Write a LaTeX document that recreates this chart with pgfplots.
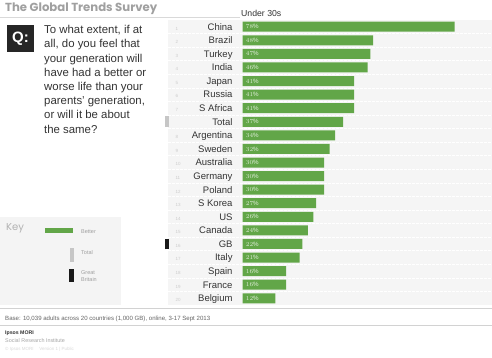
\documentclass[border=0pt]{standalone}
\usepackage{pgfplots}
\pgfplotsset{compat=1.18}
\usepackage{pgfplotstable}
\usepackage{fontspec}
\setmainfont{Liberation Sans}
\newfontfamily\titlefont{Poppins}
\definecolor{barGreen}{RGB}{98,166,72}
\definecolor{txt}{RGB}{51,51,51}
\definecolor{ttl}{RGB}{160,160,160}
\newcommand\strutx{\rule[-3pt]{0pt}{12.8pt}}
\newcommand\lab[3]{\makebox[68pt]{\strutx\makebox[11pt][l]{#3}\makebox[8pt][l]{\textcolor{gray!40}{\fontsize{4.5}{5}\selectfont #1}}\hfill #2}}
\newcommand\mk[1]{\textcolor{#1}{\rule[-1.9pt]{4pt}{10.6pt}}}
\pgfplotstableread{
idx val
1 78
2 48
3 47
4 46
5 41
6 41
7 41
8 37
9 34
10 32
11 30
12 30
13 30
14 27
15 26
16 24
17 22
18 21
19 16
20 16
21 12
}\data
\begin{document}
\begin{tikzpicture}
\useasboundingbox (0,0) rectangle (492pt,357pt);
\fill[white] (0,0) rectangle (492pt,357pt);
\begin{scope}[x=1pt,y=-1pt,shift={(0pt,357pt)}]
 % title
 \node[anchor=west,inner sep=0pt,text=ttl] at (5,8.5) {\resizebox{152pt}{!}{\titlefont\bfseries The Global Trends Survey}};
 \draw[gray!30,line width=0.6pt] (0,17) -- (240,17);
 % chart background
 \fill[gray!8] (168,19.9) rectangle (492,305.1);
 \foreach \k in {1,...,20} {\draw[white,line width=0.6pt,dash pattern=on 3pt off 1pt] (168,19.9+\k*13.58) -- (492,19.9+\k*13.58);}
 % Q box
 \fill[black!85] (7,25) rectangle (34,52);
 \node[text=white,font=\fontsize{15}{15}\selectfont\bfseries] at (20.5,38.5) {Q:};
 \node[anchor=north west,align=left,inner sep=0pt,text=txt,font=\fontsize{11.4}{14.2}\selectfont] at (44,25.3)
 {To what extent, if at\\all, do you feel that\\your generation will\\have had a better or\\worse life than your\\parents' generation,\\or will it be about\\the same?};
 % header
 \node[anchor=west,inner sep=0pt,text=txt,font=\fontsize{8.7}{9}\selectfont] at (241,13.3) {Under 30s};
 % key
 \fill[gray!9] (0,217) rectangle (120.7,305);
 \node[anchor=west,inner sep=0pt,text=gray!60,font=\titlefont\fontsize{10}{10}\selectfont] at (6,228) {Key};
 \fill[barGreen] (45,228.3) rectangle (73,233.3);
 \node[anchor=west,inner sep=0pt,text=gray!75,font=\fontsize{5.5}{6}\selectfont] at (81,231.3) {Better};
 \fill[gray!45] (70,247.7) rectangle (74,261.7);
 \node[anchor=west,inner sep=0pt,text=gray!75,font=\fontsize{5.5}{6}\selectfont] at (81,253) {Total};
 \fill[black!90] (69,269) rectangle (74,282.3);
 \node[anchor=west,inner sep=0pt,align=left,text=gray!75,font=\fontsize{5.5}{7.4}\selectfont] at (81,276) {Great\\Britain};
 % footer
 \draw[gray!35,line width=0.5pt] (0,308) -- (492,308);
 \draw[gray!35,line width=0.5pt] (0,325) -- (492,325);
 \node[anchor=west,inner sep=0pt,text=gray!80!black] at (5,318.5) {\resizebox{205pt}{!}{\fontsize{5.6}{6}\selectfont Base: 10,039 adults across 20 countries (1,000 GB), online, 3-17 Sept 2013}};
 \node[anchor=west,inner sep=0pt,text=txt,font=\fontsize{5.2}{6}\selectfont\bfseries] at (5,333.3) {Ipsos MORI};
 \node[anchor=west,inner sep=0pt,text=gray!70,font=\fontsize{5.4}{6}\selectfont] at (5,340.7) {Social Research Institute};
 \node[anchor=west,inner sep=0pt,text=gray!30,font=\fontsize{4.5}{5}\selectfont] at (5,349) {\textcopyright{} Ipsos MORI \quad Version 1 | Public};
\end{scope}
\begin{axis}[
 at={(242.7pt,51.9pt)}, anchor=south west,
 scale only axis, width=249.3pt, height=285.2pt,
 xmin=0, xmax=91.8, ymin=0.5, ymax=21.5, y dir=reverse,
 axis line style={draw=none}, major tick length=0pt,
 xtick=\empty, ytick={1,...,21},
 yticklabels={
 {\lab{1}{China}{}},{\lab{2}{Brazil}{}},{\lab{3}{Turkey}{}},{\lab{4}{India}{}},
 {\lab{5}{Japan}{}},{\lab{6}{Russia}{}},{\lab{7}{S Africa}{}},{\lab{}{Total}{\mk{gray!45}}},
 {\lab{8}{Argentina}{}},{\lab{9}{Sweden}{}},{\lab{10}{Australia}{}},{\lab{11}{Germany}{}},
 {\lab{12}{Poland}{}},{\lab{13}{S Korea}{}},{\lab{14}{US}{}},{\lab{15}{Canada}{}},
 {\lab{16}{GB}{\mk{black!90}}},{\lab{17}{Italy}{}},{\lab{18}{Spain}{}},{\lab{19}{France}{}},{\lab{20}{Belgium}{}}},
 yticklabel style={anchor=east,inner sep=0pt,xshift=-10pt,text=txt,font=\fontsize{9.5}{10}\selectfont},
 clip=false,
]
\addplot[xbar, bar width=10pt, fill=barGreen, draw=none] table[x=val,y=idx] {\data};
\addplot[draw=none, mark=none, point meta=explicit,
 nodes near coords={\pgfmathprintnumber{\pgfplotspointmeta}\%},
 nodes near coords style={anchor=west, inner sep=0pt, xshift=3pt, text=barGreen!20!white, font=\fontsize{6.2}{6.5}\selectfont}]
 table[x expr=0, y=idx, meta=val] {\data};
\end{axis}
\end{tikzpicture}
\end{document}
